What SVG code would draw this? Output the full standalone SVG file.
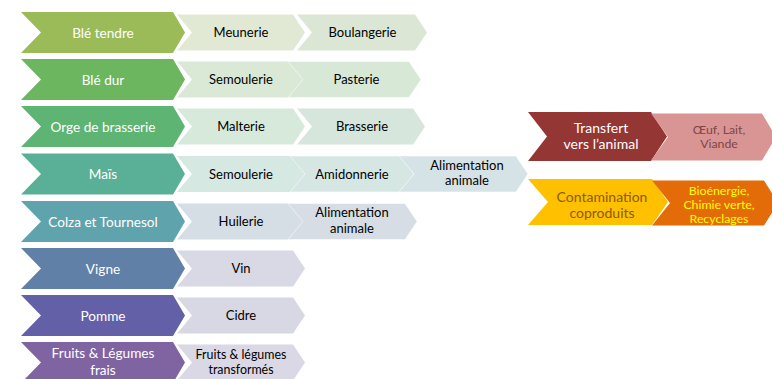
<svg xmlns="http://www.w3.org/2000/svg" width="772" height="379" viewBox="0 0 772 379">
<style>
  .m { font-family: Lato, "Liberation Sans", sans-serif; font-size: 13.6px; fill: #ffffff; text-anchor: middle; }
  .s { font-family: Lato, "Liberation Sans", sans-serif; font-size: 13px; fill: #000000; text-anchor: middle; }
  .s2 { font-family: Lato, "Liberation Sans", sans-serif; font-size: 12.4px; fill: #000000; text-anchor: middle; }
  .r { font-family: Lato, "Liberation Sans", sans-serif; font-size: 14px; text-anchor: middle; }
  .rs { font-family: Lato, "Liberation Sans", sans-serif; font-size: 12.3px; text-anchor: middle; }
  .faint { stroke: #ffffff; stroke-opacity: 0.55; stroke-width: 1; }
</style>
<defs>
  <polygon id="main" points="21,0 173,0 185,20.5 173,41 21,41 41,20.5"/>
</defs>
<rect width="772" height="379" fill="#ffffff"/>

<g id="connectors"/>

<!-- Row 1 -->
<g id="ble-tendre" transform="translate(0,12)">
  <use href="#main" fill="#9BBB59"/>
  <text class="m" x="103" y="25.5">Blé tendre</text>
</g>
<g id="meunerie" transform="translate(0,12)">
  <polygon points="177,2.5 293,2.5 305,20.5 293,38.5 177,38.5 192,20.5" fill="#E1E9D5"/>
  <text class="s" x="241" y="25">Meunerie</text>
</g>
<g id="boulangerie" transform="translate(0,12)">
  <polygon points="297,2.5 415,2.5 427,20.5 415,38.5 297,38.5 312,20.5" fill="#DCE6D4"/>
  <text class="s" x="362.5" y="25">Boulangerie</text>
</g>

<!-- Row 2 -->
<g id="ble-dur" transform="translate(0,59)">
  <use href="#main" fill="#6CB65F"/>
  <text class="m" x="103" y="25.5">Blé dur</text>
</g>
<g id="semoulerie-1" transform="translate(0,59)">
  <polygon points="177,2.5 293,2.5 305,20.5 293,38.5 177,38.5 192,20.5" fill="#DAE9D6"/>
  <text class="s" x="241" y="25">Semoulerie</text>
</g>
<g id="pasterie" transform="translate(0,59)">
  <polygon class="faint" points="288,2.5 409,2.5 421,20.5 409,38.5 288,38.5 303,20.5" fill="#D7E8D6"/>
  <text class="s" x="356.5" y="25">Pasterie</text>
</g>

<!-- Row 3 -->
<g id="orge" transform="translate(0,106)">
  <use href="#main" fill="#5EB472"/>
  <text class="m" x="103" y="25.5">Orge de brasserie</text>
</g>
<g id="malterie" transform="translate(0,106)">
  <polygon points="177,2.5 293,2.5 305,20.5 293,38.5 177,38.5 192,20.5" fill="#D6E9DB"/>
  <text class="s" x="241" y="25">Malterie</text>
</g>
<g id="brasserie" transform="translate(0,106)">
  <polygon points="297,2.5 413,2.5 425,20.5 413,38.5 297,38.5 312,20.5" fill="#D6E6DC"/>
  <text class="s" x="362" y="25">Brasserie</text>
</g>

<!-- Row 4 -->
<g id="mais" transform="translate(0,153.5)">
  <use href="#main" fill="#5AB096"/>
  <text class="m" x="103" y="25.5">Maïs</text>
</g>
<g id="semoulerie-2" transform="translate(0,153.5)">
  <polygon points="177,2.5 293,2.5 305,20.5 293,38.5 177,38.5 192,20.5" fill="#D5E8E2"/>
  <text class="s" x="241" y="25">Semoulerie</text>
</g>
<g id="amidonnerie" transform="translate(0,153.5)">
  <polygon class="faint" points="290,2.5 402,2.5 414,20.5 402,38.5 290,38.5 305,20.5" fill="#D5E6E3"/>
  <text class="s" x="352" y="25">Amidonnerie</text>
</g>
<g id="alimentation-1" transform="translate(0,153.5)">
  <polygon class="faint" points="399,2.5 516,2.5 528,20.5 516,38.5 399,38.5 414,20.5" fill="#D6E3E6"/>
  <text class="s" x="467" y="16">Alimentation</text>
  <text class="s" x="467" y="31">animale</text>
</g>

<!-- Row 5 -->
<g id="colza" transform="translate(0,201)">
  <use href="#main" fill="#5FA3AD"/>
  <text class="m" x="103" y="25.5">Colza et Tournesol</text>
</g>
<g id="huilerie" transform="translate(0,201)">
  <polygon points="177,2.5 293,2.5 305,20.5 293,38.5 177,38.5 192,20.5" fill="#D6DEE5"/>
  <text class="s" x="241" y="25">Huilerie</text>
</g>
<g id="alimentation-2" transform="translate(0,201)">
  <polygon class="faint" points="288,2.5 405,2.5 417,20.5 405,38.5 288,38.5 303,20.5" fill="#D6DDE5"/>
  <text class="s" x="352" y="15.5">Alimentation</text>
  <text class="s" x="352" y="31.5">animale</text>
</g>

<!-- Row 6 -->
<g id="vigne" transform="translate(0,248)">
  <use href="#main" fill="#6080A7"/>
  <text class="m" x="103" y="25.5">Vigne</text>
</g>
<g id="vin" transform="translate(0,248)">
  <polygon points="177,2.5 293,2.5 305,20.5 293,38.5 177,38.5 192,20.5" fill="#D8D9E4"/>
  <text class="s" x="241" y="25">Vin</text>
</g>

<!-- Row 7 -->
<g id="pomme" transform="translate(0,295)">
  <use href="#main" fill="#6460A8"/>
  <text class="m" x="103" y="25.5">Pomme</text>
</g>
<g id="cidre" transform="translate(0,295)">
  <polygon points="177,2.5 293,2.5 305,20.5 293,38.5 177,38.5 192,20.5" fill="#D8D8E4"/>
  <text class="s" x="241" y="25">Cidre</text>
</g>

<!-- Row 8 -->
<g id="fruits" transform="translate(0,342)">
  <use href="#main" fill="#8064A2"/>
  <text class="m" x="103" y="16">Fruits &amp; Légumes</text>
  <text class="m" x="103" y="32.5">frais</text>
</g>
<g id="fruits-transformes" transform="translate(0,342)">
  <polygon points="177,2.5 293,2.5 305,20.5 293,38.5 177,38.5 192,20.5" fill="#DAD8E5"/>
  <text class="s2" x="241" y="16.5">Fruits &amp; légumes</text>
  <text class="s2" x="241" y="31.5">transformés</text>
</g>

<!-- Right side -->
<g id="transfert">
  <polygon points="528,112 651,112 667,136.5 651,161 528,161 547,136.5" fill="#943634"/>
  <text class="r" x="601" y="133" fill="#ffffff">Transfert</text>
  <text class="r" x="601" y="149" fill="#ffffff">vers l’animal</text>
</g>
<g id="oeuf">
  <polygon points="651,113.5 762,113.5 776,137 762,160.5 651,160.5 668,137" fill="#D99594"/>
  <text class="rs" x="719" y="134" fill="#7E4645">Œuf, Lait,</text>
  <text class="rs" x="719" y="148" fill="#7E4645">Viande</text>
</g>
<g id="contamination">
  <polygon points="528,179 652,179 668,202 652,225 528,225 548,202" fill="#FFC000"/>
  <text class="r" x="602" y="201.5" fill="#8C5A00">Contamination</text>
  <text class="r" x="602" y="217.5" fill="#8C5A00">coproduits</text>
</g>
<g id="bioenergie">
  <polygon points="652,180.5 764,180.5 778,203 764,225.5 652,225.5 670,203" fill="#E36C09"/>
  <text class="rs" x="719" y="194.5" fill="#FFFF00">Bioénergie,</text>
  <text class="rs" x="719" y="208.5" fill="#FFFF00">Chimie verte,</text>
  <text class="rs" x="719" y="222.5" fill="#FFFF00">Recyclages</text>
</g>
</svg>
